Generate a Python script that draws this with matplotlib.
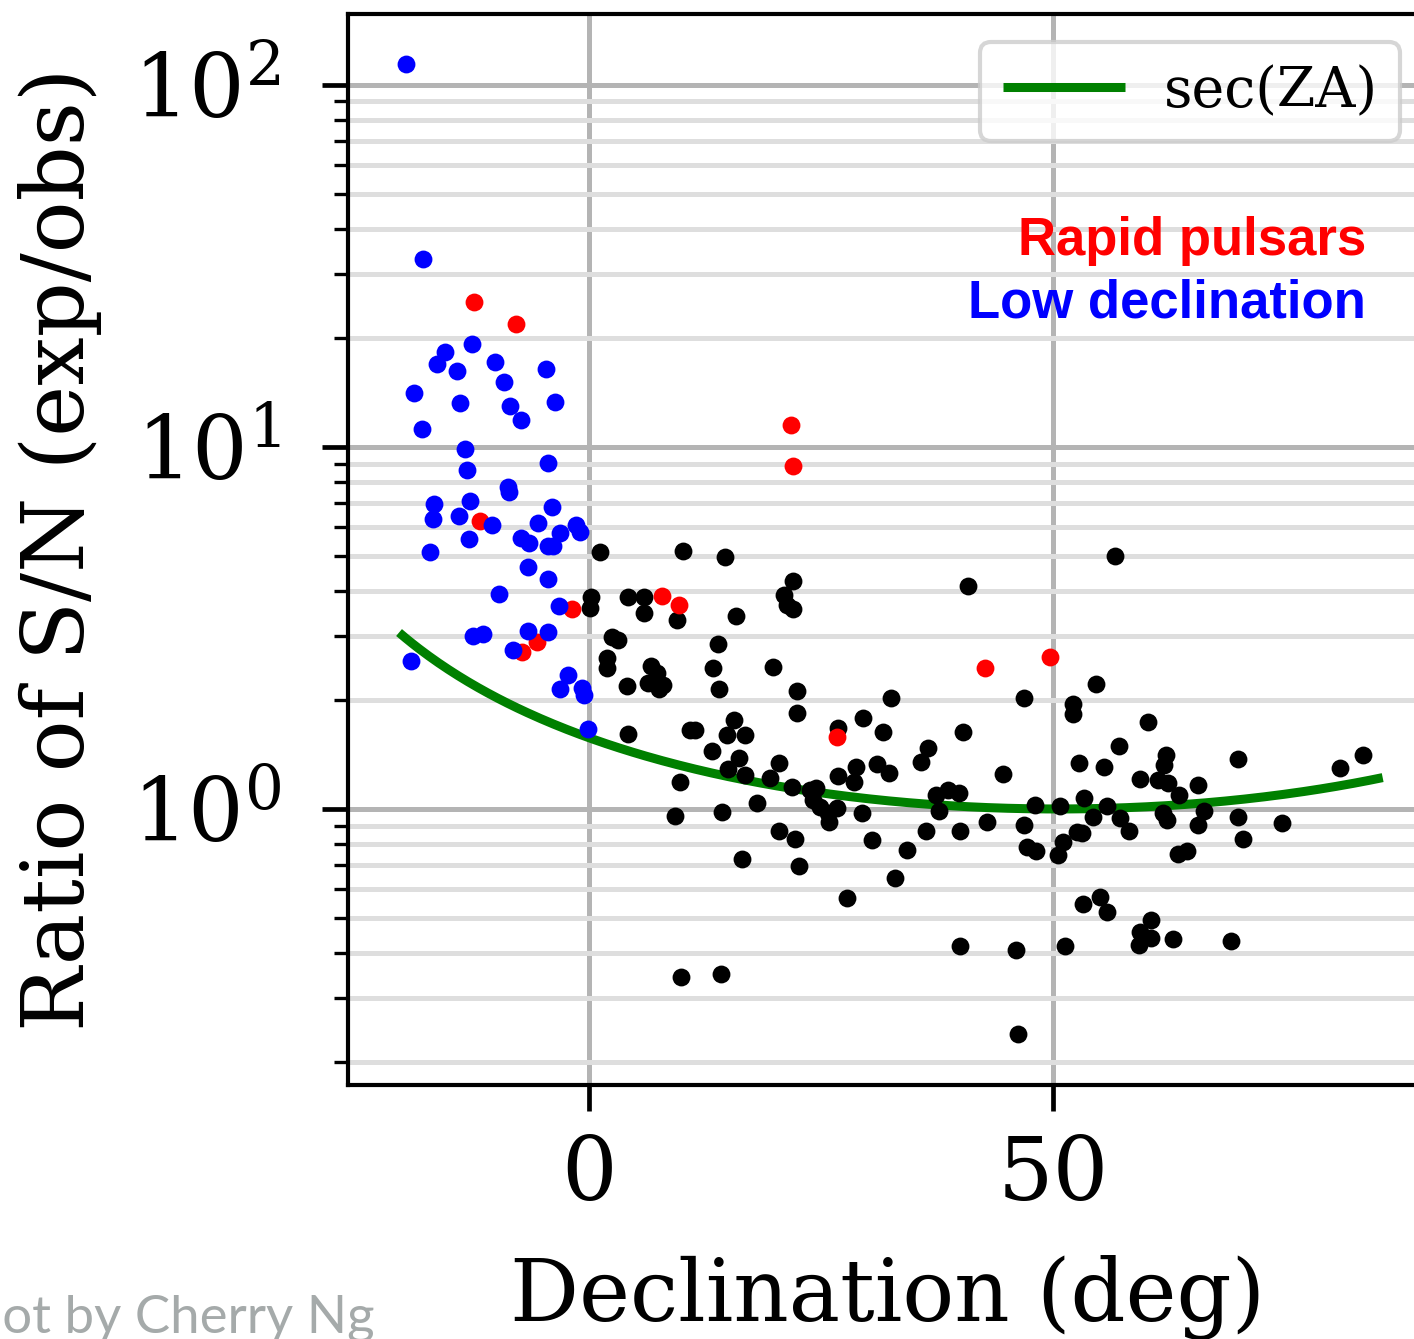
import numpy as np
import matplotlib
matplotlib.use("Agg")
import matplotlib.pyplot as plt
from matplotlib.ticker import LogLocator, NullFormatter, FixedLocator

# ---------------- data ----------------
# Low-declination pulsars (blue)
low_dec = [-19.8, -17.9, -12.6, -15.5, -16.4, -10.2, -14.3, -4.7, -9.2, -18.9,
           -13.9, -8.5, -3.7, -7.4, -18.0, -13.4, -4.4, -13.2, -8.8, -8.7,
           -16.7, -12.8, -4.0, -16.8, -14.0, -10.5, -5.5, -1.4, -1.0, -3.2,
           -7.4, -6.5, -4.5, -3.9, -13.0, -17.2, -6.6, -4.4, -9.7, -3.3,
           -12.5, -11.5, -6.6, -4.4, -8.2, -19.2, -2.3, -3.2, -0.75, -0.54, -0.1]
low_ratio = [114, 33.0, 19.3, 18.3, 17.0, 17.2, 16.2, 16.4, 15.1, 14.1,
             13.2, 13.0, 13.3, 11.9, 11.2, 9.87, 9.03, 8.64, 7.75, 7.51,
             6.96, 7.09, 6.83, 6.33, 6.45, 6.09, 6.17, 6.09, 5.82, 5.79,
             5.61, 5.43, 5.33, 5.33, 5.57, 5.13, 4.66, 4.32, 3.93, 3.64,
             3.01, 3.04, 3.10, 3.08, 2.75, 2.56, 2.35, 2.15, 2.16, 2.06, 1.66]

# Rapid pulsars (red)
rapid_dec = [-12.4, -7.9, -11.8, -1.9, -5.6, -7.2, 7.8, 9.7, 21.7, 22.0, 26.7, 42.6, 49.7]
rapid_ratio = [25.2, 21.9, 6.25, 3.57, 2.89, 2.72, 3.88, 3.66, 11.5, 8.86, 1.58, 2.45, 2.63]

# Other pulsars (black)
other_dec = [1.2, 10.1, 14.6, 22.0, 0.2, 0.1, 4.2, 5.9, 5.9, 9.5,
             15.8, 21.0, 21.3, 22.0, 2.5, 3.1, 13.9, 1.9, 1.9, 6.6,
             7.3, 6.3, 7.9, 7.5, 4.1, 13.3, 19.8, 14.0, 22.4, 22.4,
             4.2, 10.9, 11.4, 15.6, 14.8, 16.8, 13.2, 16.1, 14.9, 16.8,
             20.4, 19.5, 21.9, 9.8, 18.1, 23.8, 24.4, 24.1, 24.9, 25.7,
             26.8, 26.8, 9.2, 14.3, 20.4, 22.2, 16.5, 22.6, 27.8, 9.9,
             14.2, 56.7, 40.8, 54.6, 32.5, 46.8, 52.1, 52.1, 29.5, 31.7,
             40.3, 36.5, 35.7, 57.1, 28.7, 28.5, 31.0, 32.3, 44.6, 52.8,
             55.5, 37.4, 38.7, 39.8, 48.0, 50.7, 53.3, 55.8, 37.7, 29.4,
             26.7, 25.8, 42.9, 46.9, 54.3, 57.2, 30.5, 34.2, 36.3, 40.0,
             47.2, 48.1, 51.0, 50.5, 52.6, 32.9, 53.2, 55.0, 55.8, 39.9,
             46.0, 51.3, 46.2, 60.2, 62.1, 61.9, 59.3, 61.3, 62.4, 65.6,
             63.5, 69.9, 80.9, 83.4, 58.2, 61.8, 62.3, 66.2, 65.6, 69.9,
             74.6, 70.5, 63.4, 64.4, 60.5, 59.4, 60.5, 59.2, 62.9, 69.2, 53.1]
other_ratio = [5.13, 5.16, 4.97, 4.26, 3.85, 3.59, 3.85, 3.85, 3.48, 3.33,
               3.41, 3.90, 3.66, 3.57, 2.99, 2.93, 2.86, 2.61, 2.45, 2.48,
               2.38, 2.23, 2.20, 2.15, 2.19, 2.45, 2.47, 2.15, 2.12, 1.84,
               1.61, 1.65, 1.65, 1.76, 1.60, 1.60, 1.45, 1.38, 1.29, 1.24,
               1.34, 1.22, 1.15, 1.19, 1.04, 1.13, 1.14, 1.06, 1.01, 0.975,
               1.67, 1.23, 0.956, 0.981, 0.87, 0.826, 0.728, 0.696, 0.568, 0.344,
               0.350, 5.00, 4.13, 2.21, 2.03, 2.03, 1.95, 1.83, 1.78, 1.63,
               1.63, 1.47, 1.35, 1.49, 1.31, 1.19, 1.33, 1.26, 1.25, 1.34,
               1.31, 1.09, 1.13, 1.11, 1.025, 1.02, 1.07, 1.02, 0.987, 0.975,
               1.006, 0.921, 0.921, 0.903, 0.95, 0.944, 0.821, 0.77, 0.87, 0.87,
               0.785, 0.765, 0.811, 0.746, 0.864, 0.645, 0.546, 0.571, 0.519, 0.418,
               0.408, 0.418, 0.239, 1.74, 1.41, 1.32, 1.21, 1.20, 1.18, 1.165,
               1.09, 1.37, 1.30, 1.41, 0.87, 0.975, 0.932, 0.987, 0.903, 0.95,
               0.915, 0.826, 0.751, 0.765, 0.494, 0.457, 0.44, 0.421, 0.437, 0.432, 0.858]

# sec(ZA) reference curve
site_latitude = 50.5
curve_dec = np.linspace(-20.5, 85.5, 300)
curve_sec = 1.0 / np.cos(np.radians(curve_dec - site_latitude))

x_ticks = [0, 50]
x_label = "Declination (deg)"
y_label = "Ratio of S/N (exp/obs)"
legend_label = "sec(ZA)"
note_rapid = "Rapid pulsars"
note_low = "Low declination"
credit = "Plot by Cherry Ng"

# ---------------- figure ----------------
plt.rcParams["font.family"] = ["DejaVu Serif"]
plt.rcParams["mathtext.fontset"] = "dejavuserif"

W, H = 1414, 1339
fig = plt.figure(figsize=(W / 100, H / 100), dpi=100)
left_px, right_px, top_px, bot_px = 348, 1443, 14, 1085
ax = fig.add_axes([left_px / W, (H - bot_px) / H,
                   (right_px - left_px) / W, (bot_px - top_px) / H])

ax.set_yscale("log")
ax.set_xlim(-26, 92)
ax.set_ylim(0.1728, 157)

ax.plot(curve_dec, curve_sec, color="#008000", lw=6.5, zorder=2, label=legend_label,
        solid_capstyle="butt")
ms = 165
ax.scatter(other_dec, other_ratio, s=ms, c="black", linewidths=0, zorder=3)
ax.scatter(rapid_dec, rapid_ratio, s=ms, c="#ff0000", linewidths=0, zorder=4)
ax.scatter(low_dec, low_ratio, s=ms, c="#0000ff", linewidths=0, zorder=5)

ax.xaxis.set_major_locator(FixedLocator(x_ticks))
ax.yaxis.set_major_locator(LogLocator(base=10, numticks=10))
ax.yaxis.set_minor_locator(LogLocator(base=10, subs=np.arange(2, 10), numticks=20))
ax.yaxis.set_minor_formatter(NullFormatter())

ax.grid(True, which="major", axis="both", color="#b4b4b4", lw=3.6, zorder=0)
ax.grid(True, which="minor", axis="y", color="#dedede", lw=3.6, zorder=0)
ax.set_axisbelow(True)

for side in ["left", "bottom", "top", "right"]:
    ax.spines[side].set_linewidth(3.0)
ax.tick_params(axis="both", which="major", direction="out", length=18.5, width=3.4,
               labelsize=63, top=False, right=False)
ax.tick_params(axis="x", which="major", pad=16)
ax.tick_params(axis="y", which="major", pad=30)
ax.tick_params(axis="y", which="minor", direction="out", length=10, width=2.4,
               right=False)

ax.set_xlabel(x_label, fontsize=62)
ax.set_ylabel(y_label, fontsize=62)
ax.xaxis.set_label_coords((888 - left_px) / (right_px - left_px), -(1255 - bot_px) / (bot_px - top_px))
ax.yaxis.set_label_coords(-(348 - 102) / (right_px - left_px), 0.5)

leg = ax.legend(loc="upper right", bbox_to_anchor=(1400 / W, 1 - 42 / H),
                bbox_transform=fig.transFigure, borderaxespad=0, fontsize=40,
                handlelength=2.2, handletextpad=0.7, borderpad=0.4, fancybox=True,
                framealpha=0.8)
leg.get_frame().set_edgecolor("#cccccc")
leg.get_frame().set_linewidth(3.0)
leg.set_zorder(6)

fig.text(1366 / W, 1 - 255 / H, note_rapid, color="#ff0000", fontsize=38,
         fontweight="bold", family=["Liberation Sans"], ha="right", va="baseline")
fig.text(1366 / W, 1 - 318 / H, note_low, color="#0000ff", fontsize=38,
         fontweight="bold", family=["Liberation Sans"], ha="right", va="baseline")

fig.text(375 / W, 1 - 1333 / H, credit, color="#a5aaaa", fontsize=38,
         fontweight="normal", family=["Lato", "DejaVu Sans"], ha="right", va="baseline")

fig.savefig("out.png", dpi=100)
